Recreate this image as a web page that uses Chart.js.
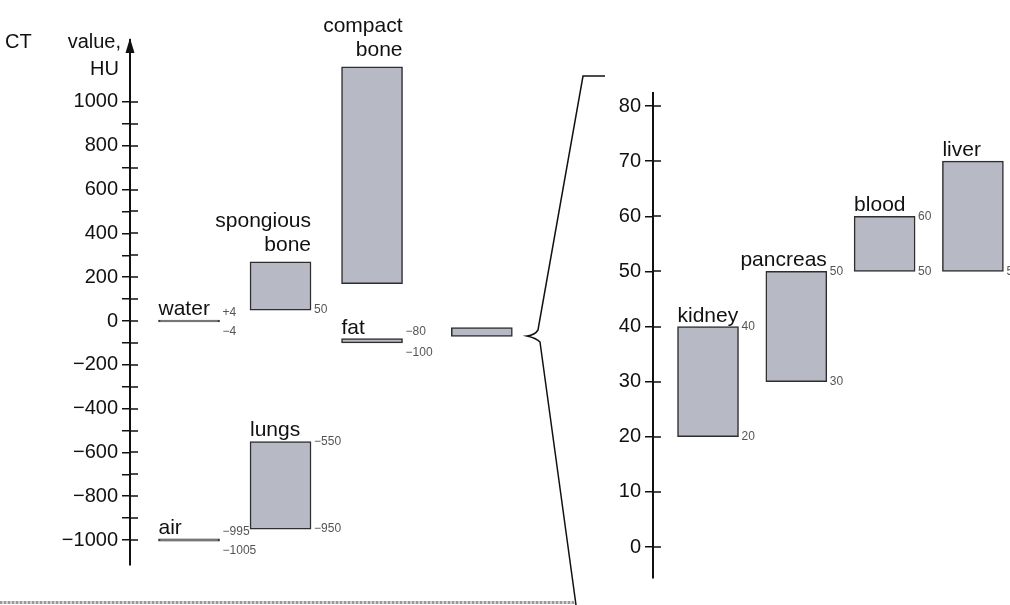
<!DOCTYPE html>
<html>
<head>
<meta charset="utf-8">
<script src="https://cdn.jsdelivr.net/npm/chart.js@4.4.1/dist/chart.umd.min.js"></script>
<style>
  html, body { margin: 0; padding: 0; background: #ffffff; }
  #wrap { position: relative; width: 1010px; height: 605px; overflow: hidden; background: #ffffff; }
  #left { position: absolute; left: 0; top: 0; }
  #right { position: absolute; left: 520px; top: 0; }
  #scanline { position: absolute; left: 0; top: 601px; width: 575px; height: 3px;
    background: repeating-linear-gradient(90deg, #9a9a9a 0 2px, #d0d0d0 2px 4px); }
</style>
</head>
<body>
<div id="wrap">
  <canvas id="left" width="520" height="605"></canvas>
  <canvas id="right" width="490" height="605"></canvas>
  <div id="scanline"></div>
</div>
<script>
// ---------------- DATA ----------------
// Left panel: full HU scale
const leftNames     = ['water', 'air', 'spongious bone', 'lungs', 'compact bone', 'fat', 'soft tissue'];
const leftLow       = [-4, -1005, 50, -950, 170, -100, -70];
const leftHigh      = [4, -995, 270, -550, 1160, -80, -30];
const leftColumn    = [1, 1, 2, 2, 3, 3, 4.2];
const leftHighText  = ['+4', '\u2212995', '', '\u2212550', '', '\u221280', ''];
const leftLowText   = ['\u22124', '\u22121005', '50', '\u2212950', '', '\u2212100', ''];
const leftNameAlign = ['left', 'left', 'right', 'left', 'right', 'left', 'none'];

const leftTickValues = [-1000, -900, -800, -700, -600, -500, -400, -300, -200, -100, 0,
                        100, 200, 300, 400, 500, 600, 700, 800, 900, 1000];
const leftTickLabels = ['\u22121000', '', '\u2212800', '', '\u2212600', '', '\u2212400', '', '\u2212200', '', '0',
                        '', '200', '', '400', '', '600', '', '800', '', '1000'];

// Right panel: soft tissue detail
const rightNames     = ['kidney', 'pancreas', 'blood', 'liver'];
const rightLow       = [20, 30, 50, 50];
const rightHigh      = [40, 50, 60, 70];
const rightColumn    = [1, 2, 3, 4];
const rightHighText  = ['40', '50', '60', ''];
const rightLowText   = ['20', '30', '50', '50'];
const rightNameAlign = ['left', 'right', 'left', 'left'];

const rightTickValues = [0, 10, 20, 30, 40, 50, 60, 70, 80];
const rightTickLabels = ['0', '10', '20', '30', '40', '50', '60', '70', '80'];

// ---------------- STYLE ----------------
const FONT = "'Liberation Sans', Arial, Helvetica, sans-serif";
Chart.defaults.font.family = FONT;
Chart.defaults.color = '#111';
const BAR_FILL = '#b7b9c5';
const BAR_EDGE = '#2e2e2e';
const INK = '#111';

function axisDecor(tickValues, withArrow, title) {
  return {
    id: 'axisDecor',
    afterDraw(chart) {
      const { ctx, chartArea: a } = chart;
      const y = chart.scales.y;
      ctx.save();
      ctx.strokeStyle = INK;
      ctx.lineWidth = 1.5;
      tickValues.forEach(v => {
        const py = Math.round(y.getPixelForValue(v));
        ctx.beginPath();
        ctx.moveTo(a.left, py);
        ctx.lineTo(a.left + 8, py);
        ctx.stroke();
      });
      if (withArrow) {
        ctx.fillStyle = INK;
        ctx.beginPath();
        ctx.moveTo(a.left, a.top - 2);
        ctx.lineTo(a.left - 4.5, a.top + 13);
        ctx.lineTo(a.left + 4.5, a.top + 13);
        ctx.closePath();
        ctx.fill();
      }
      if (title) {
        ctx.fillStyle = INK;
        ctx.font = '20px ' + FONT;
        ctx.textBaseline = 'alphabetic';
        ctx.textAlign = 'left';
        ctx.fillText('CT', 5, a.top + 8);
        ctx.textAlign = 'right';
        ctx.fillText('value,', a.left - 9, a.top + 8);
        ctx.fillText('HU', a.left - 11, a.top + 35);
      }
      ctx.restore();
    }
  };
}

function barLabels(names, highText, lowText, nameAlign) {
  return {
    id: 'barLabels',
    afterDatasetsDraw(chart) {
      const { ctx } = chart;
      const meta = chart.getDatasetMeta(0);
      ctx.save();
      meta.data.forEach((bar, i) => {
        const p = bar.getProps(['x', 'y', 'base', 'width'], true);
        const top = Math.min(p.y, p.base), bot = Math.max(p.y, p.base);
        const l = p.x - p.width / 2, r = p.x + p.width / 2;
        const al = nameAlign[i];
        if (al !== 'none') {
          const lines = al === 'right' ? names[i].split(' ') : [names[i]];
          ctx.font = '21px ' + FONT;
          ctx.fillStyle = INK;
          ctx.textAlign = al;
          ctx.textBaseline = 'alphabetic';
          const tx = al === 'right' ? r : l;
          const off = lines.length > 1 ? 11 : 5;
          lines.forEach((ln, k) => ctx.fillText(ln, tx, top - off - (lines.length - 1 - k) * 24));
        }
        ctx.font = '12px ' + FONT;
        ctx.fillStyle = '#555';
        ctx.textAlign = 'left';
        ctx.textBaseline = 'middle';
        const thin = (bot - top) < 8;
        if (highText[i]) ctx.fillText(highText[i], r + 3, thin ? top - 7 : top);
        if (lowText[i]) ctx.fillText(lowText[i], r + 3, thin ? bot + 10 : bot);
      });
      ctx.restore();
    }
  };
}

const bracket = {
  id: 'bracket',
  afterDraw(chart) {
    const { ctx, chartArea: a } = chart;
    const topY = a.top - 17, midY = 336, botY = chart.height;
    ctx.save();
    ctx.strokeStyle = INK;
    ctx.lineWidth = 1.5;
    ctx.beginPath();
    ctx.moveTo(85, topY);
    ctx.lineTo(63, topY);
    ctx.lineTo(18, midY - 6);
    ctx.quadraticCurveTo(15, midY - 1, 7, midY);
    ctx.quadraticCurveTo(16, midY + 2, 20, midY + 6);
    ctx.lineTo(56, botY);
    ctx.stroke();
    ctx.restore();
  }
};

function yAxis(min, max, width, tickValues, tickLabels) {
  return {
    min: min, max: max,
    afterFit(s) { s.width = width; },
    afterBuildTicks(s) { s.ticks = tickValues.map(v => ({ value: v })); },
    ticks: {
      autoSkip: false, padding: 4, color: INK, font: { size: 20 },
      callback: (v) => tickLabels[tickValues.indexOf(v)]
    },
    grid: { drawOnChartArea: false, drawTicks: true, tickLength: 8, color: INK, lineWidth: 1.5 },
    border: { display: true, color: INK, width: 2 }
  };
}

new Chart(document.getElementById('left'), {
  type: 'bar',
  data: {
    datasets: [{
      data: leftColumn.map((c, i) => ({ x: c, y: [leftLow[i], leftHigh[i]] })),
      backgroundColor: BAR_FILL,
      borderColor: BAR_EDGE,
      borderWidth: 1.5,
      borderSkipped: false,
      barThickness: 61
    }]
  },
  options: {
    responsive: false,
    animation: false,
    layout: { padding: { top: 40, bottom: 40, left: 0, right: 0 } },
    plugins: { legend: { display: false }, tooltip: { enabled: false } },
    scales: {
      x: { type: 'linear', display: false, offset: false, min: 0.355, max: 4.617 },
      y: yAxis(-1114, 1283, 130, leftTickValues, leftTickLabels)
    }
  },
  plugins: [axisDecor(leftTickValues, true, true), barLabels(leftNames, leftHighText, leftLowText, leftNameAlign)]
});

new Chart(document.getElementById('right'), {
  type: 'bar',
  data: {
    datasets: [{
      data: rightColumn.map((c, i) => ({ x: c, y: [rightLow[i], rightHigh[i]] })),
      backgroundColor: BAR_FILL,
      borderColor: BAR_EDGE,
      borderWidth: 1.5,
      borderSkipped: false,
      barThickness: 61
    }]
  },
  options: {
    responsive: false,
    animation: false,
    layout: { padding: { top: 93, bottom: 27, left: 0, right: 0 } },
    plugins: { legend: { display: false }, tooltip: { enabled: false } },
    scales: {
      x: { type: 'linear', display: false, offset: false, min: 0.377, max: 4.42 },
      y: yAxis(-5.62, 82.36, 133, rightTickValues, rightTickLabels)
    }
  },
  plugins: [axisDecor(rightTickValues, false, false), barLabels(rightNames, rightHighText, rightLowText, rightNameAlign), bracket]
});
</script>
</body>
</html>
